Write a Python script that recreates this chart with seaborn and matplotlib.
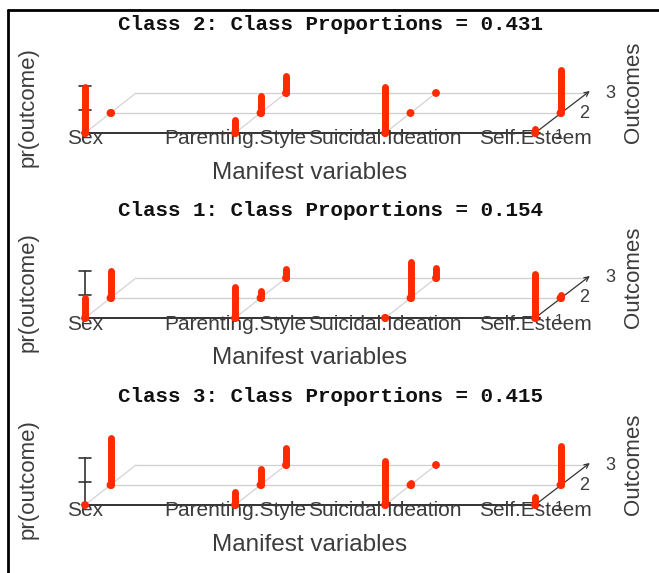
import numpy as np
import pandas as pd
import matplotlib
matplotlib.use("Agg")
import matplotlib.pyplot as plt
import seaborn as sns
from matplotlib.lines import Line2D

# ---------------- data ----------------
variables = ["Sex", "Parenting.Style", "Suicidal.Ideation", "Self.Esteem"]
outcome_labels = ["1", "2", "3"]
panel_titles = ["Class 2: Class Proportions = 0.431",
                "Class 1: Class Proportions = 0.154",
                "Class 3: Class Proportions = 0.415"]

# item-response probabilities per variable (one list per manifest variable)
class2_probs = [[0.98, 0.02], [0.27, 0.37, 0.36], [0.98, 0.01, 0.01], [0.08, 0.92]]
class1_probs = [[0.43, 0.57], [0.65, 0.15, 0.20], [0.02, 0.76, 0.22], [0.93, 0.07]]
class3_probs = [[0.01, 0.99], [0.28, 0.35, 0.37], [0.94, 0.05, 0.01], [0.17, 0.83]]
panel_probs = [class2_probs, class1_probs, class3_probs]

# ---------------- geometry (pixels) ----------------
W, H = 659, 573
PX_PER_VAR = 150.0       # horizontal px per variable
PX_PER_P = 47.0          # vertical px per probability unit
OFF_X_PX, OFF_Y_PX = 25.5, 20.0   # oblique offset per outcome level
ORIGIN_X = 85.0
baselines = [133, 318, 505]
BELOW, ABOVE = 66, 120

PXX = 1.0 / PX_PER_VAR
PXY = 1.0 / PX_PER_P
DX = OFF_X_PX * PXX
DY = OFF_Y_PX * PXY

RED = "#ff2a00"
TXT = "#3c3c3c"

sns.set_theme(style="white")
plt.rcParams["font.family"] = ["Liberation Sans", "DejaVu Sans"]

fig = plt.figure(figsize=(W / 100, H / 100), dpi=100)
fig.patch.set_facecolor("white")

for title, probs, base in zip(panel_titles, panel_probs, baselines):
    ax = fig.add_axes([0, (H - (base + BELOW)) / H, 1, (BELOW + ABOVE) / H])
    ax.set_xlim(-ORIGIN_X * PXX, (W - ORIGIN_X) * PXX)
    ax.set_ylim(-BELOW * PXY, ABOVE * PXY)
    ax.axis("off")
    ax.patch.set_alpha(0)

    rows = []
    for i, (var, plist) in enumerate(zip(variables, probs)):
        for k, p in enumerate(plist):
            rows.append({"var": var, "outcome": k + 1, "p": p,
                         "X": i + k * DX, "Yb": k * DY})
    df = pd.DataFrame(rows)
    nvar = len(variables) - 1

    # floor grid lines (back levels)
    for k in (1, 2):
        ax.plot([k * DX, nvar + k * DX], [k * DY, k * DY], color="#cfcfcf", lw=0.9, zorder=1)
    # diagonals for each variable
    for i in range(nvar):
        ax.plot([i, i + 2 * DX], [0, 2 * DY], color="#d4d4d4", lw=0.9, zorder=1)
    # front axis line
    ax.plot([0, nvar + 0.03], [0, 0], color="#222222", lw=1.3, zorder=1.5)
    # outcome axis (arrow)
    ax.annotate("", xy=(nvar + 2.15 * DX, 2.1 * DY), xytext=(nvar, 0),
                arrowprops=dict(arrowstyle="->", color="#333333", lw=0.9,
                                shrinkA=0, shrinkB=0, mutation_scale=8), zorder=1.5)
    for k, lab in enumerate(outcome_labels):
        ax.text(nvar + k * DX + 24 * PXX, k * DY - (2 * PXY if k == 0 else 0), lab,
                ha="center", va="center", fontsize=13 if k else 11, color=TXT, zorder=2)

    # vertical probability axis
    ax.plot([0, 0], [0, 1], color="#333333", lw=1.2, zorder=1.5)
    for t in (0.5, 1.0):
        ax.plot([-6 * PXX, 6 * PXX], [t, t], color="#333333", lw=1.2, zorder=1.5)

    # variable labels
    for i, var in enumerate(variables):
        ax.text(i, -6 * PXY, var, ha="center", va="center", fontsize=15,
                color=TXT, zorder=2)

    # bars
    for _, r in df.iterrows():
        ax.plot([r.X, r.X], [r.Yb, r.Yb + r.p], color=RED, lw=5.0,
                solid_capstyle="round", zorder=4)
    sns.scatterplot(data=df, x="X", y="Yb", color=RED, s=32, edgecolor="none",
                    ax=ax, legend=False, zorder=4)
    ax.set_xlabel("")
    ax.set_ylabel("")

    # axis titles
    ax.text(1.5, -40 * PXY, "Manifest variables", ha="center", va="center",
            fontsize=17.5, color=TXT)
    ax.text((28 - ORIGIN_X) * PXX, 26 * PXY, "pr(outcome)", rotation=90,
            ha="center", va="center", fontsize=16, color=TXT)
    ax.text((634 - ORIGIN_X) * PXX, 41 * PXY, "Outcomes", rotation=90,
            ha="center", va="center", fontsize=16, color=TXT)
    ax.text((330 - ORIGIN_X) * PXX, 108 * PXY, title, ha="center", va="center",
            fontsize=15, fontweight="bold", family=["Liberation Mono", "DejaVu Sans Mono"],
            color="#111111")

# frame lines (top and left)
fig.add_artist(Line2D([8 / W, 1], [1 - 10 / H, 1 - 10 / H], transform=fig.transFigure,
                      color="black", lw=2))
fig.add_artist(Line2D([8 / W, 8 / W], [0, 1 - 10 / H], transform=fig.transFigure,
                      color="black", lw=2))

fig.savefig("out.png", dpi=100)
